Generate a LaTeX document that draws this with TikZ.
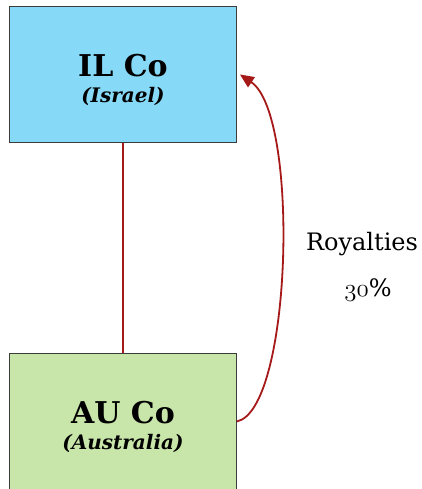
\documentclass[tikz,border=0pt]{standalone}
\usepackage{fontspec}
\setmainfont{DejaVu Serif}
\usetikzlibrary{arrows.meta}
\definecolor{ilblue}{RGB}{134,217,247}
\definecolor{augreen}{RGB}{201,230,170}
\definecolor{edgegray}{RGB}{60,60,60}
\definecolor{linkred}{RGB}{165,25,25}
\begin{document}
\begin{tikzpicture}[x=1pt,y=1pt,
  company/.style={draw=edgegray, line width=0.9pt, minimum width=227pt, minimum height=136pt, inner sep=0pt},
  coname/.style={font=\fontsize{30}{34}\selectfont\bfseries, inner sep=0pt},
  coplace/.style={font=\fontsize{20}{23}\selectfont\bfseries\itshape, inner sep=0pt},
  caption/.style={font=\fontsize{24}{28}\selectfont, inner sep=0pt},
  owns/.style={draw=linkred, line width=1.3pt},
  flow/.style={draw=linkred, line width=1.8pt, -{Triangle[length=14pt,width=12pt]}}]
\useasboundingbox (0,0) rectangle (421,-489);
\clip (0,0) rectangle (421,-489);
\node[company, fill=ilblue, anchor=north west] (il) at (9,-6) {};
\node[company, fill=augreen, anchor=north west] (au) at (9,-353) {};
\draw[owns] (il.south) -- (au.north);
\node[coname, anchor=base] (ilname) at ([yshift=-2pt]il.center) {IL Co};
\node[coplace, anchor=base] (ilplace) at ([yshift=-28pt]il.center) {(Israel)};
\node[coname, anchor=base] (auname) at ([yshift=-2pt]au.center) {AU Co};
\node[coplace, anchor=base] (auplace) at ([yshift=-28pt]au.center) {(Australia)};
\draw[flow] (au.east) .. controls (292,-410) and (300,-115) .. ([xshift=3pt]il.east);
\node[caption, anchor=base] (roy) at (362,-250) {Royalties};
\node[caption, anchor=base] (pct) at (368,-296) {{\fontsize{31}{34}\selectfont\legacyoldstylenums{30}}\%};
\end{tikzpicture}
\end{document}
